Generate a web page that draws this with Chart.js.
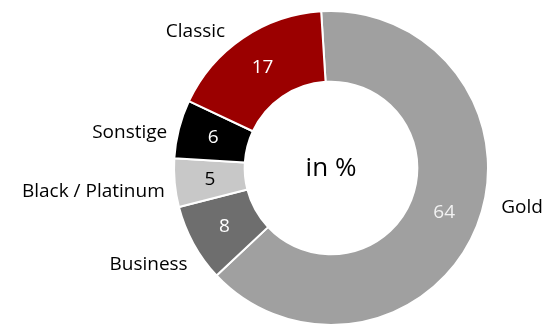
<!DOCTYPE html>
<html>
<head>
<meta charset="utf-8">
<script src="https://cdn.jsdelivr.net/npm/chart.js@4"></script>
<style>
  html, body { margin: 0; padding: 0; background: #fff; }
  canvas { display: block; }
</style>
</head>
<body>
<canvas id="myChart" width="548" height="326"></canvas>
<script>
const categories = ['Gold', 'Business', 'Black / Platinum', 'Sonstige', 'Classic'];
const shares = [64, 8, 5, 6, 17];
const sliceColors = ['#a0a0a0', '#6e6e6e', '#c8c8c8', '#000000', '#9b0000'];
const valueColors = ['#f2f2f2', '#ffffff', '#000000', '#ffffff', '#ffffff'];

const FONT = '"Segoe UI", "Open Sans", sans-serif';

// name outside the ring, number inside it
const sliceLabels = {
  id: 'sliceLabels',
  afterDatasetsDraw(chart, args, opts) {
    const ctx = chart.ctx;
    const meta = chart.getDatasetMeta(0);
    ctx.save();
    meta.data.forEach((arc, i) => {
      const p = arc.getProps(['x', 'y', 'startAngle', 'endAngle', 'innerRadius', 'outerRadius'], true);
      const mid = (p.startAngle + p.endAngle) / 2;
      const cos = Math.cos(mid), sin = Math.sin(mid);

      // value inside the slice
      const r1 = (p.innerRadius + p.outerRadius) / 2;
      ctx.font = '19px ' + FONT;
      ctx.fillStyle = valueColors[i];
      ctx.textAlign = 'center';
      ctx.textBaseline = 'middle';
      ctx.fillText(shares[i], p.x + cos * r1, p.y + sin * r1);

      // category name outside
      const r2 = p.outerRadius + 10;
      const nudge = opts.nudge[i] || [0, 0];
      ctx.fillStyle = '#000';
      ctx.textAlign = cos < 0 ? 'right' : 'left';
      ctx.fillText(categories[i], p.x + cos * r2 + nudge[0], p.y + sin * r2 + nudge[1]);
    });

    // caption in the hole
    const a = meta.data[0];
    ctx.font = '26px ' + FONT;
    ctx.fillStyle = '#000';
    ctx.textAlign = 'center';
    ctx.fillText('in %', a.x, a.y + 1);
    ctx.restore();
  }
};

const ctx = document.getElementById('myChart').getContext('2d');
const myChart = new Chart(ctx, {
  type: 'doughnut',
  data: {
    labels: categories,
    datasets: [{
      data: shares,
      backgroundColor: sliceColors,
      borderColor: '#ffffff',
      borderWidth: 2
    }]
  },
  options: {
    responsive: false,
    animation: false,
    rotation: -3.6,
    cutout: '55%',
    layout: { padding: { left: 172, right: 58, top: 10, bottom: 0 } },
    plugins: {
      legend: { display: false },
      tooltip: { enabled: false },
      sliceLabels: { nudge: [[15, -22], [3, 16], [0, 8], [-2, 6], [-12, 2]] }
    }
  },
  plugins: [sliceLabels]
});
</script>
</body>
</html>
